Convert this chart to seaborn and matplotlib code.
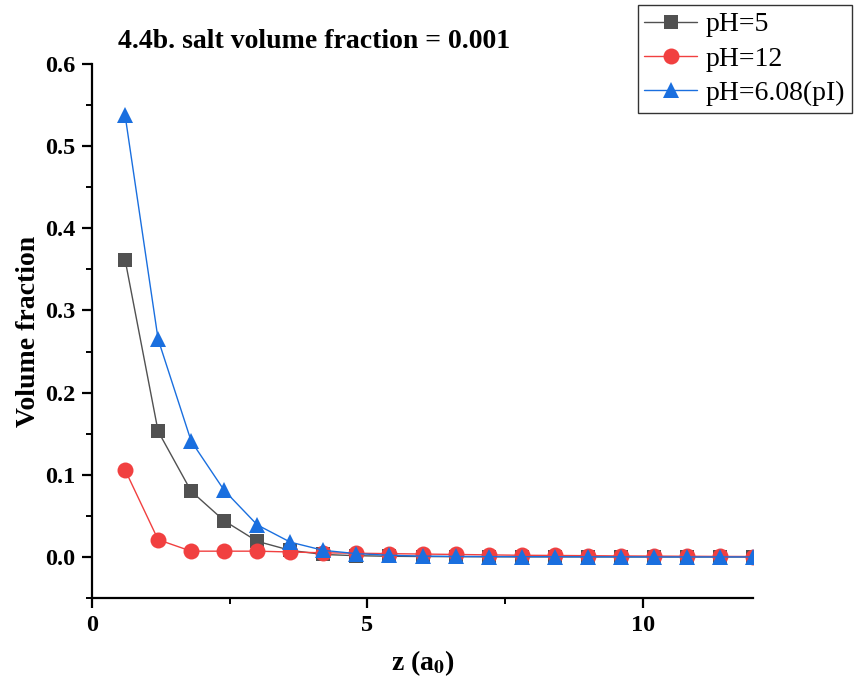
import numpy as np
import pandas as pd
import matplotlib
matplotlib.use("Agg")
import matplotlib.pyplot as plt
import seaborn as sns

z = [0.6, 1.2, 1.8, 2.4, 3.0, 3.6, 4.2, 4.8, 5.4, 6.0, 6.6, 7.2, 7.8, 8.4, 9.0, 9.6, 10.2, 10.8, 11.4, 12.0]
ph5 = [0.362, 0.153, 0.080, 0.044, 0.019, 0.008, 0.003, 0.0015, 0.0008, 0.0005, 0.0003, 0.0002, 0.0001, 0.0001, 0.0001, 0.0, 0.0, 0.0, 0.0, 0.0]
ph12 = [0.106, 0.021, 0.007, 0.007, 0.007, 0.006, 0.005, 0.0045, 0.004, 0.0035, 0.003, 0.0025, 0.002, 0.0018, 0.0015, 0.0012, 0.001, 0.0008, 0.0006, 0.0005]
phpi = [0.538, 0.265, 0.141, 0.081, 0.039, 0.018, 0.008, 0.004, 0.002, 0.001, 0.0006, 0.0004, 0.0003, 0.0002, 0.0001, 0.0001, 0.0, 0.0, 0.0, 0.0]
labels = ["pH=5", "pH=12", "pH=6.08(pI)"]
colors = ["#515151", "#F14040", "#1A6FDF"]
markers = ["s", "o", "^"]
msizes = [9.5, 11.5, 11.5]

sns.set_theme(style="ticks")
plt.rcParams['font.family'] = ['Liberation Serif', 'DejaVu Serif']
plt.rcParams['mathtext.fontset'] = 'stix'
plt.rcParams['text.color'] = 'black'
plt.rcParams['axes.labelcolor'] = 'black'
plt.rcParams['xtick.color'] = 'black'
plt.rcParams['ytick.color'] = 'black'

fig = plt.figure(figsize=(8.55, 6.95), dpi=100)
ax = fig.add_axes([92/855, 1-598/695, (753-92)/855, (598-64)/695])

for lab, ys, c, m, ms in zip(labels, [ph5, ph12, phpi], colors, markers, msizes):
    df = pd.DataFrame({"z": z, "v": ys})
    sns.lineplot(data=df, x="z", y="v", ax=ax, color=c, marker=m, markersize=ms,
                 markeredgewidth=0, linewidth=1.0, label=lab, legend=False)

ax.set_xlim(0, 12)
ax.set_ylim(-0.05, 0.6)
ax.set_xticks([0, 5, 10])
ax.set_xticks([2.5, 7.5], minor=True)
ax.set_yticks([0.0, 0.1, 0.2, 0.3, 0.4, 0.5, 0.6])
ax.set_yticks(np.arange(-0.05, 0.6, 0.1), minor=True)
ax.set_yticklabels(["0.0", "0.1", "0.2", "0.3", "0.4", "0.5", "0.6"])
sns.despine(ax=ax)
for s in ["left", "bottom"]:
    ax.spines[s].set_linewidth(1.6)
    ax.spines[s].set_color("black")
ax.tick_params(which="major", direction="out", length=7, width=1.6, colors="black", labelsize=17.5, pad=5)
ax.tick_params(which="minor", direction="out", length=4, width=1.4, colors="black")
for t in ax.get_xticklabels() + ax.get_yticklabels():
    t.set_fontweight("bold")
    t.set_color("black")

ax.set_xlabel(r"z (a$_{\mathbf{0}}$)", fontsize=20, fontweight="bold", labelpad=9, color="black")
ax.set_ylabel("Volume fraction", fontsize=20, fontweight="bold", labelpad=3, color="black")

fig.text(118/855, 1-41/695, "4.4b. salt volume fraction = 0.001", fontsize=20,
         fontweight="bold", ha="left", va="center", color="black")

handles, labs = ax.get_legend_handles_labels()
leg = fig.legend(handles, labs, loc="upper right", bbox_to_anchor=(852/855, 1-5/695),
                 fontsize=20, frameon=True, fancybox=False, edgecolor="black",
                 handlelength=1.9, handletextpad=0.3, borderpad=0.25, labelspacing=0.32,
                 borderaxespad=0)
leg.get_frame().set_linewidth(1.0)
for t in leg.get_texts():
    t.set_color("black")

fig.savefig("out.png", dpi=100)
